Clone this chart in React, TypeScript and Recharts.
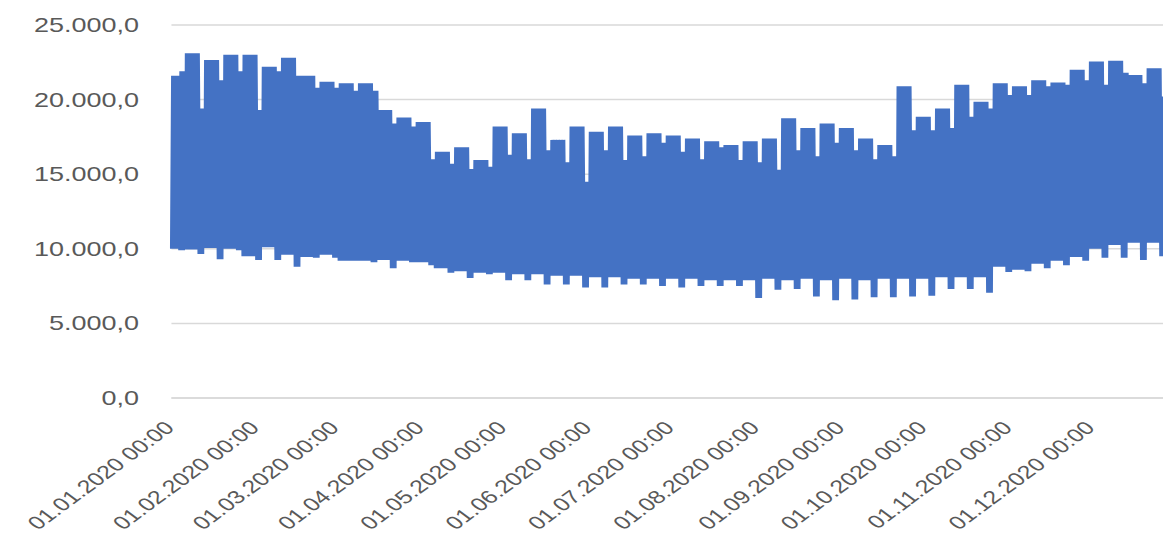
import React from "react";
import { LineChart, Line, XAxis, YAxis, CartesianGrid } from "recharts";

// weekly envelope of the hourly load (week 0 = 01.01.-05.01.2020)
const weekdayPeak = [21600, 23100, 22650, 23000, 23000, 22200, 22800, 21600, 21200, 21100, 21100, 19300, 18800, 18500, 16500, 16800, 15950, 18200, 17750, 19400, 17300, 18200, 17850, 18200, 17600, 17750, 17600, 17400, 17200, 16950, 17200, 17400, 18750, 18100, 18400, 18100, 17400, 16950, 20900, 18850, 19400, 21000, 19850, 21100, 20900, 21300, 21150, 22000, 22550, 22600, 21650, 22100, 20000];
const weekendPeak = [21900, 19400, 21300, 21900, 19300, 21900, 21600, 20800, 20800, 20600, 20600, 18400, 18200, 16000, 15700, 15350, 15500, 16300, 16000, 16600, 15800, 14500, 16600, 15950, 16200, 17100, 16500, 16000, 16800, 15950, 15800, 15300, 16600, 16200, 17100, 16600, 16000, 16200, 17950, 17950, 18100, 18850, 19400, 20300, 20300, 20900, 21000, 21300, 21000, 21800, 21100, 20200, 19000];
const weekdayLow = [10000, 9950, 10050, 10000, 9500, 10100, 9600, 9450, 9600, 9200, 9200, 9250, 9200, 9100, 8700, 8500, 8400, 8400, 8300, 8300, 8200, 8200, 8100, 8100, 8000, 8000, 8000, 8000, 7900, 7900, 7900, 8000, 7900, 8000, 7900, 8000, 7900, 8000, 8000, 8000, 8100, 8100, 8100, 8800, 8600, 9000, 9200, 9450, 10000, 10250, 10400, 10400, 10000];
const weekendLow = [9900, 9650, 9300, 9900, 9250, 9250, 8800, 9400, 9400, 9200, 9100, 8700, 9100, 8900, 8400, 8050, 8300, 7900, 7900, 7600, 7600, 7400, 7400, 7600, 7600, 7500, 7400, 7500, 7500, 7500, 6700, 7250, 7300, 6800, 6550, 6600, 6750, 6750, 6800, 6850, 7300, 7300, 7050, 8450, 8500, 8700, 8900, 9200, 9400, 9400, 9250, 9500, 9200];

const monthStarts = [0, 31, 60, 91, 121, 152, 182, 213, 244, 274, 305, 335];
const monthLabels = [
  "01.01.2020 00:00", "01.02.2020 00:00", "01.03.2020 00:00", "01.04.2020 00:00",
  "01.05.2020 00:00", "01.06.2020 00:00", "01.07.2020 00:00", "01.08.2020 00:00",
  "01.09.2020 00:00", "01.10.2020 00:00", "01.11.2020 00:00", "01.12.2020 00:00",
];
const yTicks = [0, 5000, 10000, 15000, 20000, 25000];

// night low + daytime peak for each day of 2020 (01.01. is a Wednesday)
const data: { t: number; v: number }[] = [];
for (let d = 0; d < 366; d++) {
  const wk = Math.floor((d + 2) / 7);
  const weekend = (d + 2) % 7 >= 5;
  data.push({ t: d + 0.2, v: weekend ? weekendLow[wk] : weekdayLow[wk] });
  data.push({ t: d + 0.6, v: weekend ? weekendPeak[wk] : weekdayPeak[wk] });
}

const fmt = (v: number) =>
  Math.round(v).toString().replace(/\B(?=(\d{3})+(?!\d))/g, ".") + ",0";

const font = "'Liberation Sans', Arial, sans-serif";

function MonthTick({ x, y, payload }: any) {
  const i = monthStarts.indexOf(payload.value);
  return (
    <g transform={`translate(${x + 3},${y + 31})`}>
      <text textAnchor="end" transform="rotate(-45)" fill="#595959" fontSize={18.5} fontFamily={font}>
        {monthLabels[i]}
      </text>
    </g>
  );
}

export default function App() {
  return (
    <div style={{ position: "absolute", left: 0, top: 0, width: 1163, height: 551, overflow: "hidden", background: "#fff" }}>
      <div style={{ width: 880, transform: "scaleX(1.35)", transformOrigin: "0 0" }}>
        <LineChart width={880} height={551} data={data} margin={{ top: 25, right: 8, left: 0, bottom: 0 }}>
          <CartesianGrid vertical={false} stroke="#d9d9d9" strokeWidth={1.5} />
          <XAxis
            type="number"
            dataKey="t"
            domain={[0, 366]}
            ticks={monthStarts}
            interval={0}
            tick={<MonthTick />}
            tickLine={false}
            tickSize={0}
            tickMargin={0}
            axisLine={{ stroke: "#d9d9d9", strokeWidth: 1.5 }}
            height={153}
          />
          <YAxis
            domain={[0, 25000]}
            ticks={yTicks}
            tickFormatter={fmt}
            width={127}
            tickSize={0}
            tickMargin={24}
            axisLine={false}
            tickLine={false}
            tick={{ fill: "#595959", fontSize: 20, fontFamily: font }}
          />
          <Line type="linear" dataKey="v" stroke="#4472C4" strokeWidth={3} dot={false} isAnimationActive={false} />
        </LineChart>
      </div>
    </div>
  );
}
